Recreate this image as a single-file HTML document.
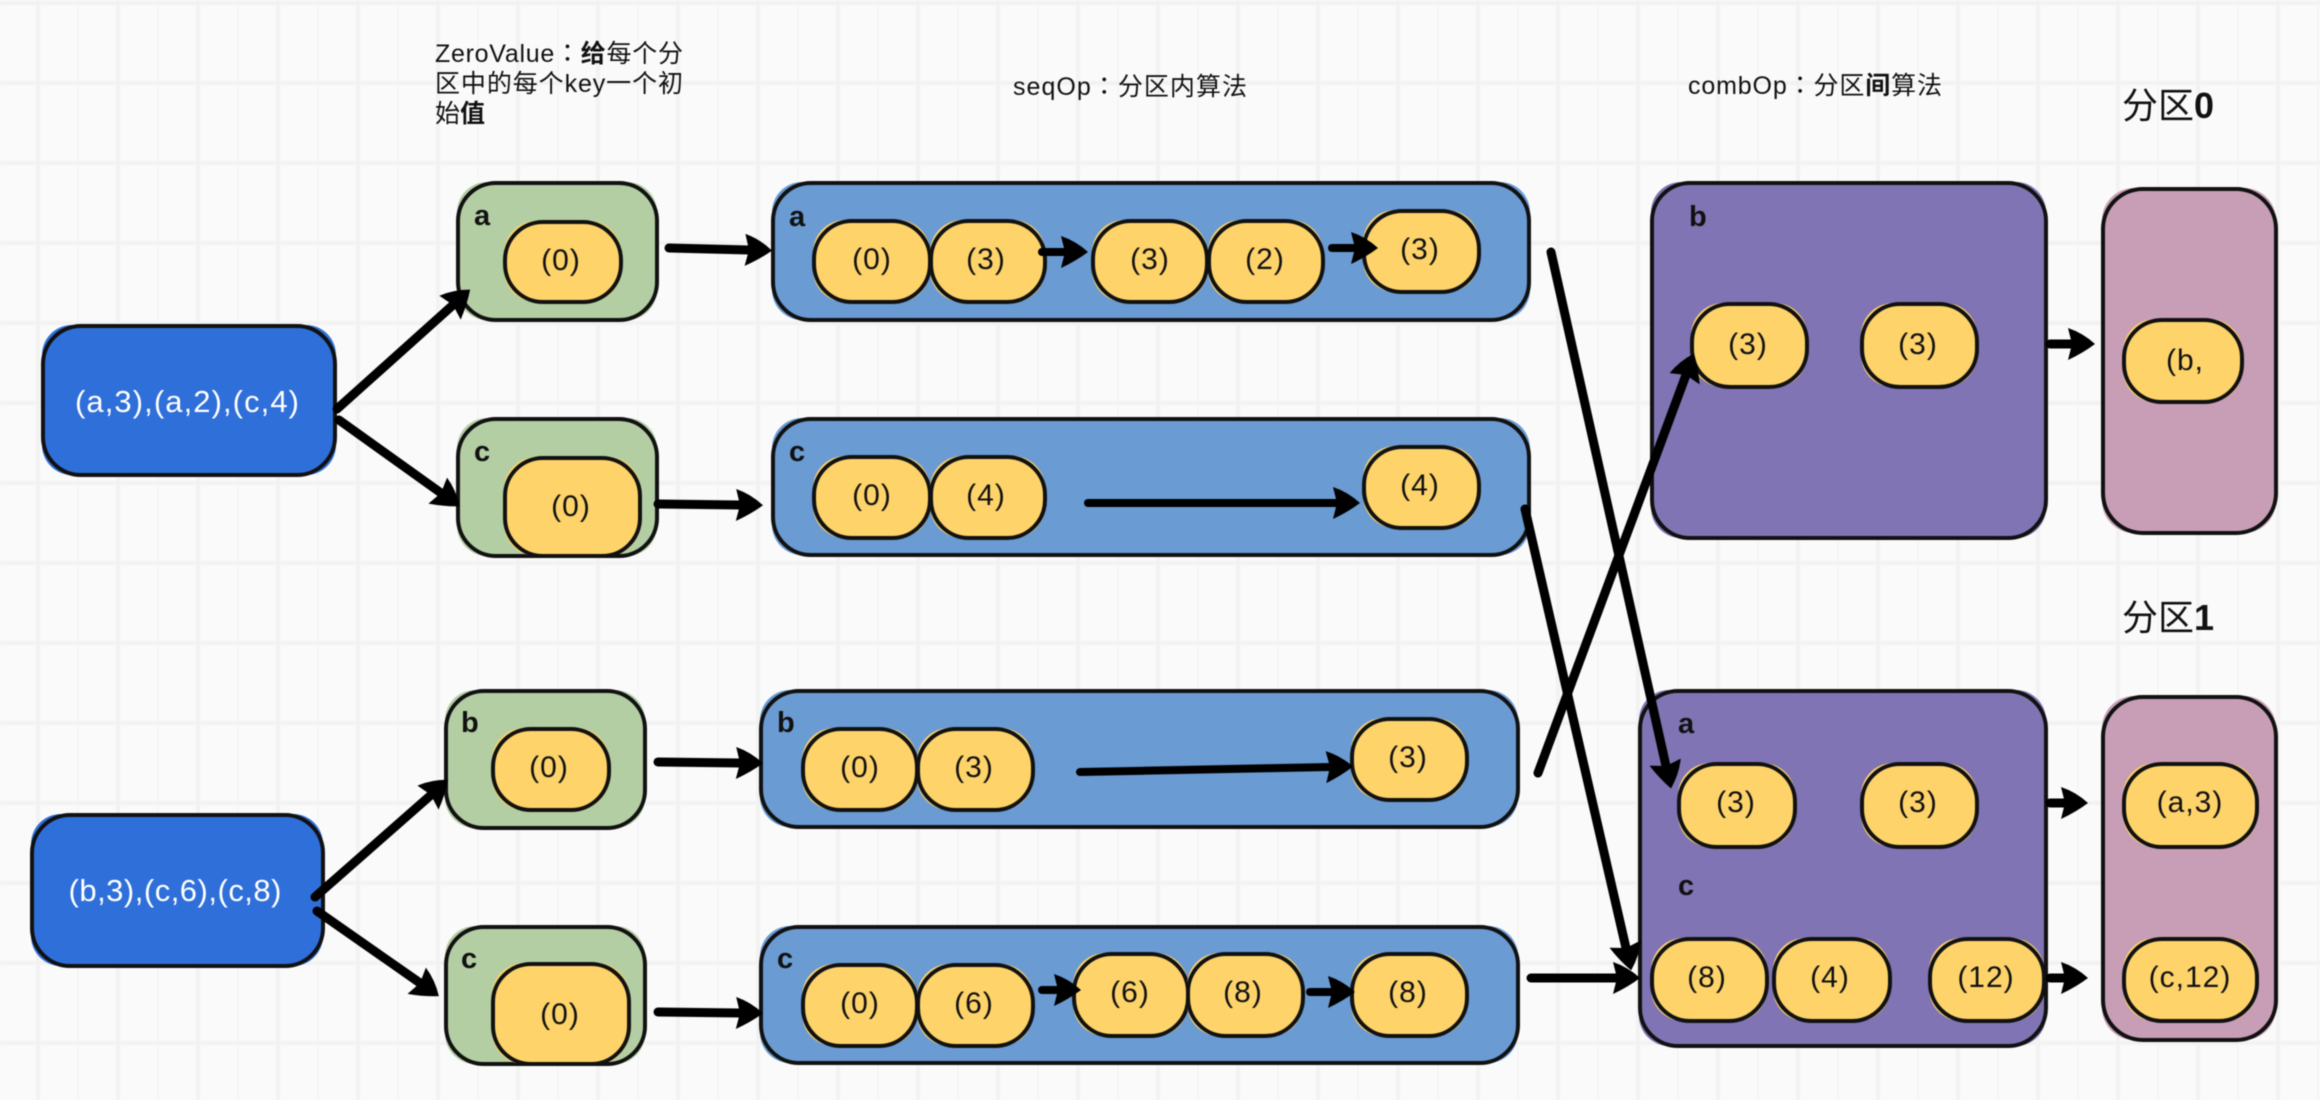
<!DOCTYPE html>
<html><head><meta charset="utf-8">
<style>
html,body{margin:0;padding:0;background:#fafafa}
body{width:2320px;height:1100px;overflow:hidden}
svg{display:block;filter:blur(0.4px)}
text{font-family:"Liberation Sans","Noto Sans CJK SC",sans-serif;fill:#111}
.t{font-size:30px;text-anchor:middle;letter-spacing:1px}
.w{font-size:31px;text-anchor:middle;fill:#fff}
.l{font-size:29px;font-weight:bold}
.h{font-size:25px}
.c{font-family:"Noto Sans CJK TC",sans-serif}
.p{font-size:36px}
.s{stroke:#111;stroke-width:4;fill:none}
.y{fill:#fdd36a}
.g{fill:#b4cea4}
.b{fill:#6a9bd3}
.d{fill:#2f6fd9}
.u{fill:#8074b4}
.k{fill:#c79eb5}
.a{stroke:#000;stroke-width:8;stroke-linecap:round;fill:none;marker-end:url(#m)}
.a2{stroke:#000;stroke-width:9;stroke-linecap:round;fill:none;marker-end:url(#m)}
</style></head>
<body>
<svg width="2320" height="1100" viewBox="0 0 2320 1100" xmlns="http://www.w3.org/2000/svg">
<defs>
<pattern id="gr" x="38" y="3" width="80" height="80" patternUnits="userSpaceOnUse">
<rect x="-2" y="0" width="4" height="80" fill="#f2f2f2"/>
<rect x="78" y="0" width="4" height="80" fill="#f2f2f2"/>
<rect x="39" y="0" width="2" height="80" fill="#f6f6f6"/>
<rect x="0" y="-2" width="80" height="4" fill="#f2f2f2"/>
<rect x="0" y="78" width="80" height="4" fill="#f2f2f2"/>
</pattern>
<marker id="m" markerUnits="userSpaceOnUse" markerWidth="40" markerHeight="44" viewBox="-4 -20 40 44" refX="4" refY="0" orient="auto" overflow="visible">
<path d="M0,-16 Q15,-11 27,0 Q15,9 0,16 L4,0 Z" fill="#000"/>
</marker>
</defs>
<rect width="2320" height="1100" fill="#fafafa"/>
<rect width="2320" height="1100" fill="url(#gr)"/>

<!-- titles -->
<text class="h" x="435" y="62" textLength="248">ZeroValue<tspan class="c">：</tspan><tspan font-weight="bold">给</tspan>每个分</text>
<text class="h" x="435" y="92" textLength="248">区中的每个key一个初</text>
<text class="h" x="435" y="122">始<tspan font-weight="bold">值</tspan></text>
<text class="h" x="1013" y="95" textLength="234">seqOp<tspan class="c">：</tspan>分区内算法</text>
<text class="h" x="1688" y="94" textLength="254">combOp<tspan class="c">：</tspan>分区<tspan font-weight="bold">间</tspan>算法</text>
<text class="p" x="2122" y="118">分区<tspan font-weight="bold">0</tspan></text>
<text class="p" x="2122" y="630">分区<tspan font-weight="bold">1</tspan></text>

<!-- source blue boxes -->
<rect class="d" x="42" y="325" width="294" height="150" rx="30"/>
<rect class="s" x="43" y="326" width="292" height="149" rx="38"/>
<text class="w" x="187" y="412" textLength="224">(a,3),(a,2),(c,4)</text>
<rect class="d" x="31" y="814" width="292" height="152" rx="30"/>
<rect class="s" x="32" y="815" width="291" height="151" rx="38"/>
<text class="w" x="175" y="901" textLength="213">(b,3),(c,6),(c,8)</text>

<!-- green boxes -->
<rect class="g" x="457" y="182" width="200" height="138" rx="30"/>
<rect class="s" x="458" y="183" width="199" height="137" rx="38"/>
<text class="l" x="474" y="225">a</text>
<rect class="y" x="504" y="221" width="117" height="81" rx="32"/>
<rect class="s" x="505" y="222" width="116" height="80" rx="38"/>
<text class="t" x="561" y="270">(0)</text>

<rect class="g" x="457" y="418" width="200" height="138" rx="30"/>
<rect class="s" x="458" y="419" width="199" height="137" rx="38"/>
<text class="l" x="474" y="461">c</text>
<rect class="y" x="504" y="457" width="136" height="99" rx="32"/>
<rect class="s" x="505" y="458" width="135" height="98" rx="38"/>
<text class="t" x="571" y="516">(0)</text>

<rect class="g" x="445" y="690" width="200" height="138" rx="30"/>
<rect class="s" x="446" y="691" width="199" height="137" rx="38"/>
<text class="l" x="461" y="732">b</text>
<rect class="y" x="492" y="728" width="117" height="82" rx="32"/>
<rect class="s" x="493" y="729" width="116" height="81" rx="38"/>
<text class="t" x="549" y="777">(0)</text>

<rect class="g" x="445" y="926" width="200" height="138" rx="30"/>
<rect class="s" x="446" y="927" width="199" height="137" rx="38"/>
<text class="l" x="461" y="968">c</text>
<rect class="y" x="492" y="963" width="137" height="101" rx="32"/>
<rect class="s" x="493" y="964" width="136" height="100" rx="38"/>
<text class="t" x="560" y="1024">(0)</text>

<!-- blue panels -->
<rect class="b" x="772" y="182" width="758" height="138" rx="30"/>
<rect class="s" x="773" y="183" width="756" height="137" rx="38"/>
<text class="l" x="789" y="226">a</text>
<rect class="b" x="772" y="418" width="758" height="137" rx="30"/>
<rect class="s" x="773" y="419" width="756" height="136" rx="38"/>
<text class="l" x="789" y="461">c</text>
<rect class="b" x="760" y="690" width="758" height="137" rx="30"/>
<rect class="s" x="761" y="691" width="757" height="136" rx="38"/>
<text class="l" x="777" y="732">b</text>
<rect class="b" x="760" y="926" width="758" height="137" rx="30"/>
<rect class="s" x="761" y="927" width="757" height="136" rx="38"/>
<text class="l" x="777" y="968">c</text>

<!-- pills row a -->
<rect class="y" x="813" y="220" width="117" height="82" rx="32"/><rect class="s" x="814" y="221" width="116" height="81" rx="38"/><text class="t" x="872" y="269">(0)</text>
<rect class="y" x="930" y="220" width="115" height="82" rx="32"/><rect class="s" x="931" y="221" width="114" height="81" rx="38"/><text class="t" x="986" y="269">(3)</text>
<rect class="y" x="1092" y="220" width="115" height="82" rx="32"/><rect class="s" x="1093" y="221" width="114" height="81" rx="38"/><text class="t" x="1150" y="269">(3)</text>
<rect class="y" x="1208" y="220" width="115" height="82" rx="32"/><rect class="s" x="1209" y="221" width="114" height="81" rx="38"/><text class="t" x="1265" y="269">(2)</text>
<rect class="y" x="1363" y="210" width="116" height="82" rx="32"/><rect class="s" x="1364" y="211" width="115" height="81" rx="38"/><text class="t" x="1420" y="259">(3)</text>
<!-- pills row c -->
<rect class="y" x="813" y="456" width="117" height="82" rx="32"/><rect class="s" x="814" y="457" width="116" height="81" rx="38"/><text class="t" x="872" y="505">(0)</text>
<rect class="y" x="930" y="456" width="115" height="82" rx="32"/><rect class="s" x="931" y="457" width="114" height="81" rx="38"/><text class="t" x="986" y="505">(4)</text>
<rect class="y" x="1363" y="446" width="116" height="82" rx="32"/><rect class="s" x="1364" y="447" width="115" height="81" rx="38"/><text class="t" x="1420" y="495">(4)</text>
<!-- pills row b -->
<rect class="y" x="802" y="728" width="115" height="82" rx="32"/><rect class="s" x="803" y="729" width="114" height="81" rx="38"/><text class="t" x="860" y="777">(0)</text>
<rect class="y" x="917" y="728" width="116" height="82" rx="32"/><rect class="s" x="918" y="729" width="115" height="81" rx="38"/><text class="t" x="974" y="777">(3)</text>
<rect class="y" x="1351" y="718" width="116" height="82" rx="32"/><rect class="s" x="1352" y="719" width="115" height="81" rx="38"/><text class="t" x="1408" y="767">(3)</text>
<!-- pills row c2 -->
<rect class="y" x="802" y="964" width="115" height="82" rx="32"/><rect class="s" x="803" y="965" width="114" height="81" rx="38"/><text class="t" x="860" y="1013">(0)</text>
<rect class="y" x="917" y="964" width="116" height="82" rx="32"/><rect class="s" x="918" y="965" width="115" height="81" rx="38"/><text class="t" x="974" y="1013">(6)</text>
<rect class="y" x="1073" y="953" width="115" height="83" rx="32"/><rect class="s" x="1074" y="954" width="114" height="82" rx="38"/><text class="t" x="1130" y="1002">(6)</text>
<rect class="y" x="1187" y="953" width="116" height="83" rx="32"/><rect class="s" x="1188" y="954" width="115" height="82" rx="38"/><text class="t" x="1243" y="1002">(8)</text>
<rect class="y" x="1351" y="953" width="116" height="83" rx="32"/><rect class="s" x="1352" y="954" width="115" height="82" rx="38"/><text class="t" x="1408" y="1002">(8)</text>

<!-- purple -->
<rect class="u" x="1651" y="182" width="395" height="356" rx="30"/>
<rect class="s" x="1652" y="183" width="394" height="355" rx="38"/>
<text class="l" x="1689" y="226">b</text>
<rect class="y" x="1691" y="303" width="116" height="84" rx="32"/><rect class="s" x="1692" y="304" width="115" height="83" rx="38"/><text class="t" x="1748" y="354">(3)</text>
<rect class="y" x="1861" y="303" width="116" height="84" rx="32"/><rect class="s" x="1862" y="304" width="115" height="83" rx="38"/><text class="t" x="1918" y="354">(3)</text>

<rect class="u" x="1639" y="690" width="407" height="356" rx="30"/>
<rect class="s" x="1640" y="691" width="406" height="355" rx="38"/>
<text class="l" x="1678" y="733">a</text>
<text class="l" x="1678" y="895">c</text>
<rect class="y" x="1678" y="763" width="117" height="84" rx="32"/><rect class="s" x="1679" y="764" width="116" height="83" rx="38"/><text class="t" x="1736" y="812">(3)</text>
<rect class="y" x="1861" y="763" width="116" height="84" rx="32"/><rect class="s" x="1862" y="764" width="115" height="83" rx="38"/><text class="t" x="1918" y="812">(3)</text>
<rect class="y" x="1651" y="938" width="116" height="83" rx="32"/><rect class="s" x="1652" y="939" width="115" height="82" rx="38"/><text class="t" x="1707" y="987">(8)</text>
<rect class="y" x="1773" y="938" width="117" height="83" rx="32"/><rect class="s" x="1774" y="939" width="116" height="82" rx="38"/><text class="t" x="1830" y="987">(4)</text>
<rect class="y" x="1929" y="938" width="115" height="83" rx="32"/><rect class="s" x="1930" y="939" width="114" height="82" rx="38"/><text class="t" x="1986" y="987">(12)</text>

<!-- pink -->
<rect class="k" x="2102" y="188" width="174" height="345" rx="32"/>
<rect class="s" x="2103" y="189" width="173" height="344" rx="40"/>
<rect class="y" x="2123" y="319" width="119" height="83" rx="32"/><rect class="s" x="2124" y="320" width="118" height="82" rx="38"/><text class="t" x="2166" y="370" style="text-anchor:start">(b,</text>
<rect class="k" x="2102" y="696" width="174" height="344" rx="32"/>
<rect class="s" x="2103" y="697" width="173" height="343" rx="40"/>
<rect class="y" x="2123" y="763" width="134" height="84" rx="32"/><rect class="s" x="2124" y="764" width="133" height="83" rx="38"/><text class="t" x="2190" y="812">(a,3)</text>
<rect class="y" x="2123" y="938" width="134" height="83" rx="32"/><rect class="s" x="2124" y="939" width="133" height="82" rx="38"/><text class="t" x="2190" y="987">(c,12)</text>

<!-- arrows -->
<path class="a2" d="M337,409 L453,305"/>
<path class="a2" d="M339,420 L441,493"/>
<path class="a2" d="M315,897 L431,795"/>
<path class="a2" d="M317,911 L420,983"/>
<path class="a2" d="M669,248 L749,250"/>
<path class="a2" d="M658,504 L740,505"/>
<path class="a2" d="M658,762 L740,763"/>
<path class="a2" d="M658,1012 L740,1013"/>
<path class="a" d="M1042,252 L1065,252"/>
<path class="a" d="M1332,248 L1355,248"/>
<path class="a" d="M1088,503 L1337,503"/>
<path class="a" d="M1080,772 L1330,767"/>
<path class="a" d="M1042,990 L1058,990"/>
<path class="a" d="M1310,992 L1332,992"/>
<path class="a2" d="M1551,252 L1666,766"/>
<path class="a2" d="M1525,509 L1626,948"/>
<path class="a2" d="M1538,773 L1686,375"/>
<path class="a2" d="M1531,978 L1617,978"/>
<path class="a2" d="M2050,344 L2072,344"/>
<path class="a2" d="M2050,803 L2065,803"/>
<path class="a2" d="M2050,978 L2065,978"/>
</svg>
</body></html>
